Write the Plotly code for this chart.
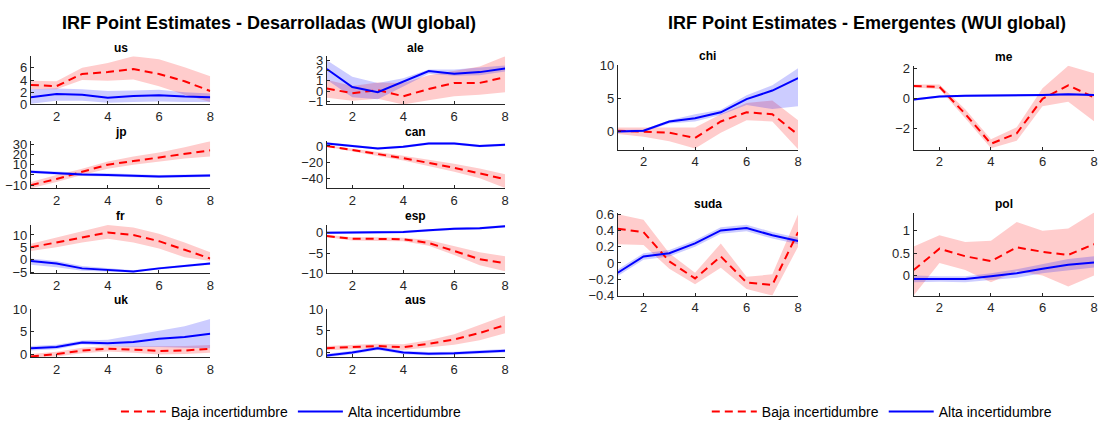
import plotly.graph_objects as go

W, H = 1104, 428
horizons = [1, 2, 3, 4, 5, 6, 7, 8]

countries = ["us", "ale", "jp", "can", "fr", "esp", "uk", "aus", "chi", "me", "suda", "pol"]

# Baja incertidumbre (red dashed) point estimates and bands
baja = {
    "us":   [3.2, 3.0, 5.0, 5.3, 5.8, 5.0, 3.8, 2.2],
    "ale":  [0.25, -0.2, 0.1, -0.5, 0.2, 0.8, 0.8, 1.35],
    "jp":   [-10, -4, 3, 10, 13.5, 17, 21, 24],
    "can":  [0, -5, -10, -15, -21, -27, -34, -41],
    "fr":   [5, 7, 9, 11, 10, 7.5, 4, 0.5],
    "esp":  [-0.8, -1.5, -1.5, -1.6, -2.5, -4.5, -6.5, -7.5],
    "uk":   [-0.5, 0, 0.8, 1.2, 1.0, 0.7, 0.8, 1.2],
    "aus":  [1.0, 1.2, 1.5, 1.2, 2.0, 3.0, 4.5, 6.3],
    "chi":  [0.1, 0, -0.2, -1.0, 1.5, 2.9, 2.6, -0.5],
    "me":   [0.85, 0.8, -1.0, -3.0, -2.3, 0, 0.9, 0.1],
    "suda": [0.42, 0.38, 0.02, -0.19, 0.08, -0.24, -0.27, 0.38],
    "pol":  [0.12, 0.6, 0.43, 0.32, 0.63, 0.53, 0.46, 0.7],
}
baja_hi = {
    "us":   [3.9, 3.8, 6.0, 6.8, 7.9, 7.4, 6.1, 4.6],
    "ale":  [1.1, 0.5, 0.85, 0.8, 1.55, 2.0, 2.4, 3.4],
    "jp":   [-7, 0, 6, 13, 18, 22, 27, 33],
    "can":  [1, -3, -7.5, -12, -17, -22, -28, -35],
    "fr":   [6.5, 9, 11.5, 14, 13, 10.5, 7, 3],
    "esp":  [-0.5, -1.1, -1.1, -1.2, -1.8, -3.3, -4.8, -5.8],
    "uk":   [0, 0.5, 1.4, 1.8, 1.7, 1.7, 1.8, 2.0],
    "aus":  [1.5, 1.7, 2.0, 1.9, 2.8, 4.2, 6.3, 8.5],
    "chi":  [0.6, 0.6, 0.7, 0.6, 2.6, 4.3, 4.7, 1.7],
    "me":   [0.95, 0.95, -0.7, -2.7, -1.9, 0.7, 2.2, 1.7],
    "suda": [0.6, 0.53, 0.12, -0.12, 0.24, -0.17, -0.14, 0.6],
    "pol":  [0.65, 0.9, 0.75, 0.78, 1.2, 1.0, 1.05, 1.41],
}
baja_lo = {
    "us":   [2.5, 2.5, 4.0, 3.9, 4.1, 3.0, 1.6, 0.4],
    "ale":  [-0.65, -0.95, -0.75, -1.3, -0.9, -0.5, -0.35, -0.1],
    "jp":   [-13, -7, 0, 6, 10, 13, 16, 18],
    "can":  [-1, -7, -12.5, -18, -25, -32, -40, -52],
    "fr":   [3.5, 5, 7, 8.5, 7, 4.5, 1, -0.5],
    "esp":  [-1.1, -1.9, -2.0, -2.1, -3.2, -5.5, -8.0, -9.5],
    "uk":   [-0.7, -0.5, 0.2, 0.6, 0.3, -0.1, 0, 0.3],
    "aus":  [0.5, 0.7, 1.0, 0.6, 1.2, 1.8, 2.8, 4.4],
    "chi":  [-0.4, -0.8, -1.5, -2.6, -0.2, 1.7, 1.5, -2.7],
    "me":   [0.75, 0.65, -1.3, -3.3, -2.8, -0.5, -0.2, -1.5],
    "suda": [0.23, 0.22, -0.07, -0.26, -0.06, -0.32, -0.4, 0.2],
    "pol":  [-0.45, 0.28, 0.12, -0.15, 0.1, 0.0, -0.25, 0.0],
}

# Alta incertidumbre (blue solid) point estimates and bands
alta = {
    "us":   [1.2, 1.7, 1.6, 1.1, 1.4, 1.5, 1.3, 1.2],
    "ale":  [2.15, 0.4, -0.1, 0.9, 1.95, 1.7, 1.85, 2.2],
    "jp":   [3, 1.5, 0.5, 0, -1, -1.5, -1, -0.5],
    "can":  [3, 0, -3, -1, 3, 3, 0, 1.5],
    "fr":   [-0.5, -1.5, -3.5, -4, -4.8, -3.5, -2.5, -1.5],
    "esp":  [0, 0.1, 0.1, 0.2, 0.6, 1.0, 1.1, 1.6],
    "uk":   [1.3, 1.6, 2.6, 2.4, 2.7, 3.4, 3.8, 4.5],
    "aus":  [-0.7, 0, 1.0, 0, -0.3, -0.2, 0.1, 0.4],
    "chi":  [0, 0.1, 1.5, 2.0, 2.9, 4.9, 6.2, 8.1],
    "me":   [-0.05, 0.15, 0.2, 0.2, 0.2, 0.25, 0.3, 0.25],
    "suda": [-0.12, 0.08, 0.12, 0.24, 0.4, 0.43, 0.34, 0.27],
    "pol":  [-0.08, -0.08, -0.08, -0.02, 0.05, 0.15, 0.24, 0.29],
}
alta_hi = {
    "us":   [2.5, 2.6, 2.5, 2.2, 2.3, 2.4, 2.0, 1.8],
    "ale":  [3.0, 1.4, 0.8, 1.25, 2.1, 2.1, 2.3, 2.5],
    "jp":   [4.5, 3, 2, 1.5, 0.5, 0, 0.5, 1],
    "can":  [4.5, 1.5, -1.5, 0.5, 4.5, 4.5, 1.5, 3],
    "fr":   [0.5, -0.5, -2.5, -3.5, -4.3, -3, -2, -1],
    "esp":  [0.3, 0.4, 0.4, 0.5, 0.9, 1.3, 1.4, 1.9],
    "uk":   [1.8, 2.1, 3.0, 3.2, 4.2, 5.2, 6.2, 7.8],
    "aus":  [-0.3, 0.4, 1.4, 0.4, 0.1, 0.2, 0.5, 0.8],
    "chi":  [0.2, 0.3, 1.7, 2.6, 3.3, 5.5, 7.0, 9.6],
    "me":   [0.02, 0.22, 0.27, 0.27, 0.27, 0.32, 0.37, 0.32],
    "suda": [-0.08, 0.12, 0.16, 0.28, 0.44, 0.47, 0.38, 0.31],
    "pol":  [0.0, -0.02, -0.02, 0.05, 0.14, 0.26, 0.37, 0.43],
}
alta_lo = {
    "us":   [0.1, 0.6, 0.6, 0.3, 0.4, 0.5, 0.4, 0.4],
    "ale":  [1.1, -0.6, -0.8, 0.45, 1.7, 1.5, 1.55, 1.9],
    "jp":   [1.5, 0, -1, -1.5, -2.5, -3, -2.5, -2],
    "can":  [1.5, -1.5, -4.5, -2.5, 1.5, 1.5, -1.5, 0],
    "fr":   [-2, -3, -4.5, -4.8, -5.2, -4, -3, -2],
    "esp":  [-0.3, -0.2, -0.2, -0.1, 0.3, 0.7, 0.8, 1.3],
    "uk":   [0.8, 1.1, 2.2, 1.8, 1.6, 1.6, 1.4, 1.3],
    "aus":  [-1.1, -0.4, 0.6, -0.4, -0.7, -0.6, -0.3, 0.0],
    "chi":  [-0.2, -0.1, 1.2, 1.5, 2.5, 4.0, 3.4, 3.8],
    "me":   [-0.12, 0.08, 0.13, 0.13, 0.13, 0.18, 0.23, 0.18],
    "suda": [-0.16, 0.04, 0.08, 0.2, 0.36, 0.39, 0.3, 0.23],
    "pol":  [-0.15, -0.14, -0.15, -0.1, -0.05, 0.05, 0.12, 0.18],
}

y_ranges = {
    "us": [0, 7.9], "ale": [-1.3, 3.4], "jp": [-13.2, 33], "can": [-52.5, 6],
    "fr": [-5.5, 14], "esp": [-10, 1.9], "uk": [-0.7, 10], "aus": [-1.1, 10],
    "chi": [-2.8, 10.1], "me": [-3.4, 2.2], "suda": [-0.4, 0.62], "pol": [-0.45, 1.41],
}
y_ticks = {
    "us": [0, 2, 4, 6], "ale": [-1, 0, 1, 2, 3], "jp": [-10, 0, 10, 20, 30],
    "can": [-40, -20, 0], "fr": [-5, 0, 5, 10], "esp": [-10, -5, 0],
    "uk": [0, 5, 10], "aus": [0, 5, 10], "chi": [0, 5, 10], "me": [-2, 0, 2],
    "suda": [-0.4, -0.2, 0, 0.2, 0.4, 0.6], "pol": [0, 0.5, 1],
}
x_ticks = [2, 4, 6, 8]

# panel boxes in pixels: x0, x1, y0 (top), y1 (bottom)
boxes = {
    "us": (31, 211, 51, 101), "ale": (328, 507, 51, 101),
    "jp": (31, 211, 139, 188), "can": (328, 507, 139, 188),
    "fr": (31, 211, 226, 276), "esp": (328, 507, 226, 276),
    "uk": (31, 211, 313, 363), "aus": (328, 507, 313, 363),
    "chi": (620, 801, 60, 148), "me": (917, 1098, 61, 148),
    "suda": (620, 801, 213, 299), "pol": (917, 1098, 213, 299),
}

FONT = "Liberation Sans, Arial, sans-serif"
AX = "#262626"
RED = "#ff0000"
BLUE = "#0000ff"
RED_BAND = "rgba(255,0,0,0.2)"
BLUE_BAND = "rgba(0,0,255,0.2)"

fig = go.Figure()
layout = {}
annotations = []

for i, c in enumerate(countries, start=1):
    xa = "x" if i == 1 else f"x{i}"
    ya = "y" if i == 1 else f"y{i}"
    x0, x1, y0, y1 = boxes[c]
    legend_id = "legend2" if i > 8 else "legend"
    show = c in ("us", "chi")

    # bands
    for hi, lo, col in ((baja_hi[c], baja_lo[c], RED_BAND), (alta_hi[c], alta_lo[c], BLUE_BAND)):
        fig.add_trace(go.Scatter(x=horizons, y=hi, mode="lines", line=dict(width=0),
                                 showlegend=False, hoverinfo="skip", legend=legend_id,
                                 xaxis=xa, yaxis=ya))
        fig.add_trace(go.Scatter(x=horizons, y=lo, mode="lines", line=dict(width=0),
                                 fill="tonexty", fillcolor=col, showlegend=False,
                                 hoverinfo="skip", legend=legend_id, xaxis=xa, yaxis=ya))
    # lines
    fig.add_trace(go.Scatter(x=horizons, y=baja[c], mode="lines",
                             line=dict(color=RED, width=2, dash="8px,5px"),
                             name="Baja incertidumbre", showlegend=show, legendrank=1,
                             legend=legend_id, xaxis=xa, yaxis=ya))
    fig.add_trace(go.Scatter(x=horizons, y=alta[c], mode="lines",
                             line=dict(color=BLUE, width=2),
                             name="Alta incertidumbre", showlegend=show, legendrank=2,
                             legend=legend_id, xaxis=xa, yaxis=ya))

    xkey = "xaxis" if i == 1 else f"xaxis{i}"
    ykey = "yaxis" if i == 1 else f"yaxis{i}"
    layout[xkey] = dict(domain=[x0 / W, x1 / W], anchor=ya, range=[1, 8],
                        tickvals=x_ticks, showline=True, linecolor=AX, linewidth=1,
                        ticks="inside", ticklen=3, tickcolor=AX, showgrid=False,
                        zeroline=False, ticklabeloverflow="allow",
                        tickfont=dict(family=FONT, size=13, color=AX))
    layout[ykey] = dict(domain=[1 - y1 / H, 1 - y0 / H], anchor=xa, range=y_ranges[c],
                        tickvals=y_ticks[c], showline=True, linecolor=AX, linewidth=1,
                        ticks="inside", ticklen=3, tickcolor=AX, showgrid=False,
                        zeroline=False, ticklabeloverflow="allow",
                        tickfont=dict(family=FONT, size=13, color=AX))
    annotations.append(dict(text=f"<b>{c}</b>", x=(x0 + x1) / 2 / W, y=1 - (y0 - 9) / H,
                            xref="paper", yref="paper", showarrow=False,
                            xanchor="center", yanchor="middle",
                            font=dict(family=FONT, size=12, color="#000000")))

annotations.append(dict(text="<b>IRF Point Estimates - Desarrolladas (WUI global)</b>",
                        x=270 / W, y=1 - 17 / H, xref="paper", yref="paper", showarrow=False,
                        xanchor="center", yanchor="middle",
                        font=dict(family=FONT, size=18, color="#000000")))
annotations.append(dict(text="<b>IRF Point Estimates - Emergentes (WUI global)</b>",
                        x=870 / W, y=1 - 17 / H, xref="paper", yref="paper", showarrow=False,
                        xanchor="center", yanchor="middle",
                        font=dict(family=FONT, size=18, color="#000000")))

legend_common = dict(orientation="h", xanchor="center", yanchor="middle",
                     bgcolor="rgba(0,0,0,0)", itemwidth=45, traceorder="normal",
                     font=dict(family=FONT, size=14, color="#000000"))
layout["legend"] = dict(x=292 / W, y=1 - 420 / H, **legend_common)
layout["legend2"] = dict(x=885 / W, y=1 - 420 / H, **legend_common)

fig.update_layout(width=W, height=H, margin=dict(l=0, r=0, t=0, b=0),
                  paper_bgcolor="white", plot_bgcolor="white",
                  annotations=annotations, **layout)

fig.write_html("out.html", config={"displayModeBar": False},
               post_script="document.body.style.margin='0';document.body.style.overflow='hidden';")
